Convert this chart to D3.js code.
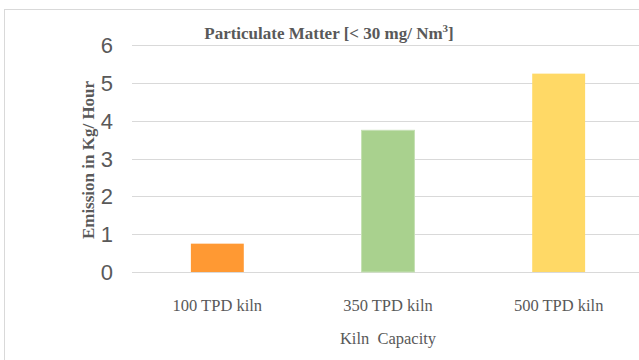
<!DOCTYPE html>
<html><head><meta charset="utf-8">
<script src="https://cdn.jsdelivr.net/npm/d3@7"></script>
<style>body{margin:0;background:#fff;}svg{display:block;}</style>
</head><body>
<svg id="c" width="639" height="360"></svg>
<script>
const categories = ["100 TPD kiln", "350 TPD kiln", "500 TPD kiln"];
const values = [0.75, 3.75, 5.25];
const colors = ["#FF9933", "#A9D18E", "#FFD966"];
const yTicks = [0, 1, 2, 3, 4, 5, 6];
const title = "Particulate Matter [< 30 mg/ Nm";
const yTitle = "Emission in Kg/ Hour";
const xTitle = "Kiln  Capacity";

const serif = "'Liberation Serif', 'Times New Roman', serif";
const svg = d3.select("#c");
// frame
svg.append("rect").attr("x", 4.5).attr("y", 9.5).attr("width", 700).attr("height", 400)
  .attr("fill", "none").attr("stroke", "#d9d9d9").attr("stroke-width", 1);

const x = d3.scaleBand().domain(categories).range([132, 644]).paddingInner(0.69).paddingOuter(0.345);
const y = d3.scaleLinear().domain([0, 6]).range([272, 45.3]);

// gridlines
svg.append("g").selectAll("line").data(yTicks).join("line")
  .attr("x1", 132).attr("x2", 639)
  .attr("y1", d => Math.round(y(d)) + 0.5).attr("y2", d => Math.round(y(d)) + 0.5)
  .attr("stroke", "#d9d9d9").attr("stroke-width", 1.2);

// y tick labels
svg.append("g").selectAll("text").data(yTicks).join("text")
  .attr("x", 113).attr("y", d => y(d)).attr("dy", "0.36em")
  .attr("text-anchor", "end")
  .attr("font-family", "'Liberation Sans', Arial, sans-serif").attr("font-size", 22)
  .attr("fill", "#595959").text(d => d);

// bars
svg.append("g").selectAll("rect").data(values).join("rect")
  .attr("x", (d, i) => x(categories[i])).attr("width", x.bandwidth())
  .attr("y", d => y(d)).attr("height", d => y(0) - y(d))
  .attr("fill", (d, i) => colors[i])
  .attr("stroke", (d, i) => i === 1 ? "#c5e0b4" : "none").attr("stroke-width", 1);

// x labels
svg.append("g").selectAll("text").data(categories).join("text")
  .attr("x", d => x(d) + x.bandwidth() / 2).attr("y", 305).attr("dy", "0.35em")
  .attr("text-anchor", "middle")
  .attr("font-family", serif).attr("font-size", 16.5)
  .attr("fill", "#595959").text(d => d);

// x title
svg.append("text").attr("x", 388).attr("y", 338).attr("dy", "0.35em")
  .attr("text-anchor", "middle").style("white-space", "pre")
  .attr("font-family", serif).attr("font-size", 16.5)
  .attr("fill", "#595959").text(xTitle);

// y title
svg.append("text").attr("transform", "translate(88,160) rotate(-90)")
  .attr("dy", "0.35em").attr("text-anchor", "middle")
  .attr("font-family", serif).attr("font-size", 17)
  .attr("font-weight", "bold").attr("fill", "#595959").text(yTitle);

// chart title
const t = svg.append("text").attr("x", 329).attr("y", 39)
  .attr("text-anchor", "middle")
  .attr("font-family", serif).attr("font-size", 17)
  .attr("font-weight", "bold").attr("fill", "#595959");
t.append("tspan").text(title);
t.append("tspan").attr("dy", -7).attr("font-size", 11).text("3");
t.append("tspan").attr("dy", 7).text("]");
</script>
</body></html>
